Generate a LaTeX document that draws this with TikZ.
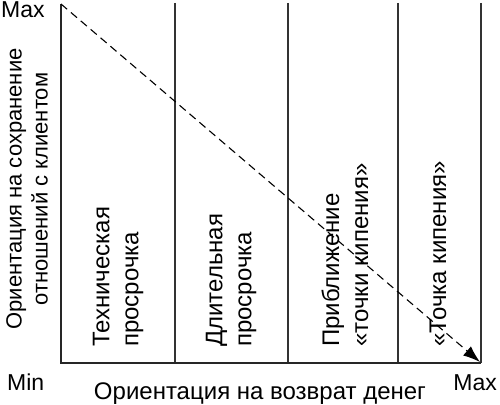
\documentclass[tikz,border=0pt]{standalone}
\usepackage{fontspec}
\setmainfont{Liberation Sans}
\usetikzlibrary{arrows.meta}
\begin{document}
\begin{tikzpicture}[x=1pt,y=-1pt,
  axis/.style={line width=1.3pt,draw=black!85},
  divider/.style={line width=1.3pt,draw=black!80},
  trend/.style={line width=1.1pt,dash pattern=on 8pt off 5pt,-{Latex[length=17pt,width=12pt]}},
  lbl/.style={font=\fontsize{22}{26}\selectfont,inner sep=0pt},
  endlbl/.style={font=\fontsize{23}{26}\selectfont,inner sep=0pt},
  big/.style={font=\fontsize{24}{29}\selectfont,inner sep=0pt},
  coltext/.style={big,rotate=90,anchor=west,align=left}]
\useasboundingbox (0,0) rectangle (500,404);
\coordinate (top) at (61,4);
\coordinate (origin) at (61,363);
\coordinate (right) at (481,363);
\coordinate (tip) at (480,362);
\foreach \x/\n in {175/a,288/b,398/c,481/d}{
  \coordinate (\n t) at (\x,3);
  \coordinate (\n b) at (\x,363);
  \draw[divider] (\n t) -- (\n b);
}
\draw[axis] (top) -- (origin) -- (right);
\draw[trend] (top) -- (tip);
\node[endlbl,anchor=base west] (ymax) at (1,18) {Max};
\node[endlbl,anchor=base west] (xmin) at (7,390) {Min};
\node[endlbl,anchor=base east] (xmax) at (497,390) {Max};
\node[big,anchor=base] (xlabel) at (260,399) {Ориентация на возврат денег};
\node[lbl,rotate=90,align=center] (ylabel) at (27,189) {Ориентация на сохранение\\отношений с клиентом};
\node[coltext] (c1) at (118,347) {Техническая\\просрочка};
\node[coltext] (c2) at (231,347) {Длительная\\просрочка};
\node[coltext] (c3) at (345,347) {Приближение\\«точки кипения»};
\node[coltext] (c4) at (438,347) {«Точка кипения»};
\end{tikzpicture}
\end{document}
